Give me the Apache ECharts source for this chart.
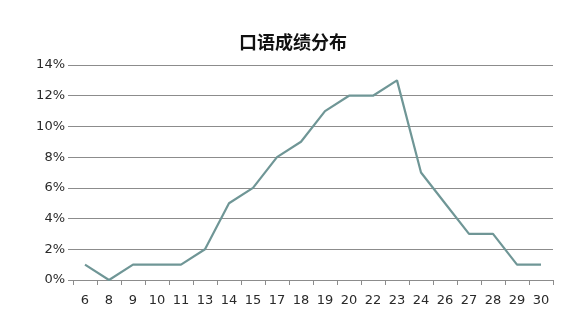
<!DOCTYPE html>
<html><head><meta charset="utf-8">
<script src="https://cdn.jsdelivr.net/npm/echarts@6/dist/echarts.min.js"></script>
<style>html,body{margin:0;padding:0;background:#fff}#c{width:586px;height:322px}</style>
</head><body><div id="c"></div>
<script>
const categories = ['6','8','9','10','11','13','14','15','17','18','19','20','22','23','24','26','27','28','29','30'];
const values = [1,0,1,1,1,2,5,6,8,9,11,12,12,13,7,5,3,3,1,1];
const titleText = '口语成绩分布';
const chart = echarts.init(document.getElementById('c'));
chart.setOption({
  animation: false,
  backgroundColor: '#fff',
  title: { text: titleText, left: 'center', top: 28, textStyle: { fontFamily: 'Noto Sans CJK SC', fontSize: 18, fontWeight: 'bold', color: '#111' } },
  grid: { left: 73, right: 33, top: 65, bottom: 42 },
  xAxis: {
    type: 'category', data: categories, boundaryGap: true,
    axisLine: { lineStyle: { color: '#8c8c8c', width: 1 } },
    axisTick: { show: true, length: 5, lineStyle: { color: '#8c8c8c' } },
    axisLabel: { color: '#2a2a2a', fontSize: 13, fontFamily: 'DejaVu Sans', margin: 14 }
  },
  yAxis: {
    type: 'value', min: 0, max: 14, interval: 2,
    axisLine: { show: false },
    axisTick: { show: true, length: 5, lineStyle: { color: '#8c8c8c' } },
    axisLabel: { color: '#2a2a2a', fontSize: 13, fontFamily: 'DejaVu Sans', margin: 8, formatter: '{value}%' },
    splitLine: { lineStyle: { color: '#8c8c8c', width: 1 } }
  },
  series: [{
    type: 'line', data: values, symbol: 'none',
    lineStyle: { color: '#6f9696', width: 2.2 }
  }]
});
</script></body></html>
